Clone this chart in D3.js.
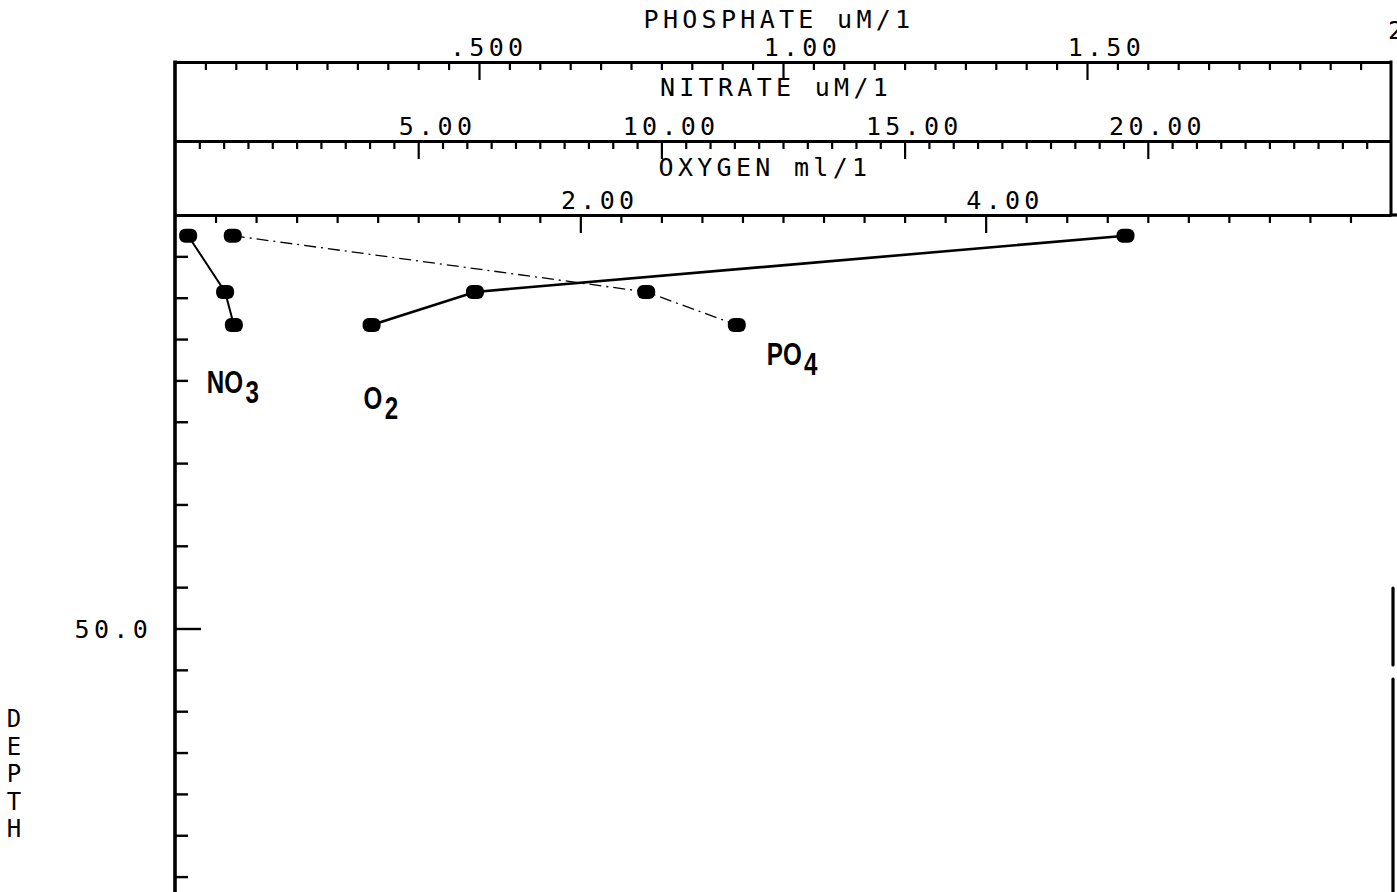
<!DOCTYPE html>
<html>
<head>
<meta charset="utf-8">
<script src="https://cdn.jsdelivr.net/npm/d3@7"></script>
<style>
    body { margin: 0; background: #fff; }
    svg { display: block; }
    .axis line, .axis path { stroke: #000; }
    .axis text { display: none; }
    .lbl { font-family: "DejaVu Sans Mono", monospace; font-size: 25px; letter-spacing: 4.3px; fill: #000; }
    .series { font-family: "Liberation Sans Narrow", "Liberation Sans", sans-serif; font-size: 31px; font-weight: bold; fill: #000; }
</style>
</head>
<body>
<svg id="chart" width="1397" height="892"></svg>
<script>
// station profile, depth in m
const depth = [2.5, 9.3, 13.3];
const nitrate = [0.27, 1.03, 1.21];
const phosphate = [0.095, 0.775, 0.924];
const oxygen = [4.69, 1.48, 0.97];

const phosTicks = [0.5, 1.0, 1.5];
const phosLabels = [".500", "1.00", "1.50"];
const nitTicks = [5, 10, 15, 20];
const nitLabels = ["5.00", "10.00", "15.00", "20.00"];
const oxyTicks = [2, 4];
const oxyLabels = ["2.00", "4.00"];
const depthTicks = [50];
const depthLabels = ["50.0"];

const left = 175, right = 1391;
const phosY = 62, nitY = 141, oxyY = 215;
const adv = 19.35; // width of one plotter character

const svg = d3.select("#chart");

const xPhos = d3.scaleLinear().domain([0, 2]).range([left, right]);
const xNit = d3.scaleLinear().domain([0, 25]).range([left, right]);
const xOxy = d3.scaleLinear().domain([0, 6]).range([left, right]);
const yDepth = d3.scaleLinear().domain([0, 100]).range([oxyY, oxyY + 827]);

// one horizontal scale band: minor ticks, major ticks, labels, title
function topAxis(x, y, minorStep, nMinor, majors, labels, title, titleX) {
    const minorVals = d3.range(1, nMinor).filter(i => i % 10 !== 0).map(i => i * minorStep);
    const gMin = svg.append("g").attr("class", "axis")
        .attr("transform", `translate(0,${y})`)
        .call(d3.axisBottom(x).tickValues(minorVals).tickSize(8).tickSizeOuter(0));
    gMin.selectAll("line").attr("stroke-width", 2.2);
    gMin.select(".domain").attr("stroke-width", 3.2);

    const gMaj = svg.append("g").attr("class", "axis")
        .attr("transform", `translate(0,${y})`)
        .call(d3.axisBottom(x).tickValues(majors).tickSize(18).tickSizeOuter(0));
    gMaj.select(".domain").remove();
    gMaj.selectAll("line").attr("stroke-width", 2.2);

    // decimal point sits on the tick
    svg.selectAll(null).data(majors).enter().append("text")
        .attr("class", "lbl")
        .attr("x", (d, i) => {
            const p = labels[i].indexOf(".");
            return x(d) - (p === 0 ? 1.5 : p) * adv;
        })
        .attr("y", y - 6)
        .text((d, i) => labels[i]);

    svg.append("text").attr("class", "lbl")
        .attr("x", titleX).attr("text-anchor", "middle")
        .attr("y", title.y)
        .text(title.t);
}

topAxis(xPhos, phosY, 0.05, 40, phosTicks, phosLabels, { t: "PHOSPHATE uM/1", y: 28 }, 779);
topAxis(xNit, nitY, 0.5, 50, nitTicks, nitLabels, { t: "NITRATE uM/1", y: 96 }, 776);
topAxis(xOxy, oxyY, 0.2, 30, oxyTicks, oxyLabels, { t: "OXYGEN ml/1", y: 176 }, 765);

// oxygen line runs to the page edge
svg.append("line").attr("x1", right).attr("x2", 1397)
    .attr("y1", oxyY).attr("y2", oxyY).attr("stroke", "#000").attr("stroke-width", 3.2);

// clipped label at the top right corner
svg.append("text").attr("class", "lbl").attr("x", 1388).attr("y", 39).text("2");

// frame
svg.append("line").attr("x1", left).attr("x2", left).attr("y1", phosY - 1.5).attr("y2", 892)
    .attr("stroke", "#000").attr("stroke-width", 3.6);
svg.append("line").attr("x1", right).attr("x2", right).attr("y1", phosY - 1.5).attr("y2", oxyY)
    .attr("stroke", "#000").attr("stroke-width", 3);
[[588, 665], [679, 892]].forEach(s => {
    svg.append("line").attr("x1", 1393).attr("x2", 1393).attr("y1", s[0]).attr("y2", s[1])
        .attr("stroke", "#000").attr("stroke-width", 3.2).attr("stroke-linecap", "round");
});

// depth axis
const depthMinor = d3.range(5, 100, 5).filter(d => d % 50 !== 0);
const gd1 = svg.append("g").attr("class", "axis")
    .attr("transform", `translate(${left},0)`)
    .call(d3.axisRight(yDepth).tickValues(depthMinor).tickSize(13).tickSizeOuter(0));
gd1.select(".domain").remove();
gd1.selectAll("line").attr("stroke-width", 2.4);
const gd2 = svg.append("g").attr("class", "axis")
    .attr("transform", `translate(${left},0)`)
    .call(d3.axisRight(yDepth).tickValues(depthTicks).tickSize(26).tickSizeOuter(0));
gd2.select(".domain").remove();
gd2.selectAll("line").attr("stroke-width", 2.4);

svg.selectAll(null).data(depthTicks).enter().append("text")
    .attr("class", "lbl").attr("text-anchor", "end")
    .attr("x", 152).attr("y", d => yDepth(d) + 9)
    .text((d, i) => depthLabels[i]);

"DEPTH".split("").forEach((c, i) => {
    svg.append("text").attr("class", "lbl")
        .style("letter-spacing", "0px").style("font-size", "24px")
        .attr("x", 14).attr("text-anchor", "middle")
        .attr("y", 727 + i * 27.5).text(c);
});

// profiles
const series = [
    { name: "NO", sub: "3", x: xNit, v: nitrate, width: 2, dash: null, dx: -27, dy: 68 },
    { name: "PO", sub: "4", x: xPhos, v: phosphate, width: 1.3, dash: "12,5,2,5", dx: 30, dy: 40 },
    { name: "O", sub: "2", x: xOxy, v: oxygen, width: 2.6, dash: null, dx: -8, dy: 84 }
];

const line = d3.line();
series.forEach(s => {
    const pts = depth.map((d, i) => [s.x(s.v[i]), yDepth(d)]);
    svg.append("path")
        .attr("d", line(pts))
        .attr("fill", "none")
        .attr("stroke", "#000")
        .attr("stroke-width", s.width)
        .attr("stroke-dasharray", s.dash);

    svg.selectAll(null).data(pts).enter().append("rect")
        .attr("x", p => p[0] - 9).attr("y", p => p[1] - 7)
        .attr("width", 18).attr("height", 14).attr("rx", 6)
        .attr("fill", "#000");

    const last = pts[pts.length - 1];
    const g = svg.append("g")
        .attr("transform", `translate(${last[0] + s.dx},${last[1] + s.dy}) scale(0.78,1)`);
    const t = g.append("text").attr("class", "series");
    t.append("tspan").text(s.name);
    t.append("tspan").attr("dx", 3).attr("dy", 10).text(s.sub);
});
</script>
</body>
</html>
